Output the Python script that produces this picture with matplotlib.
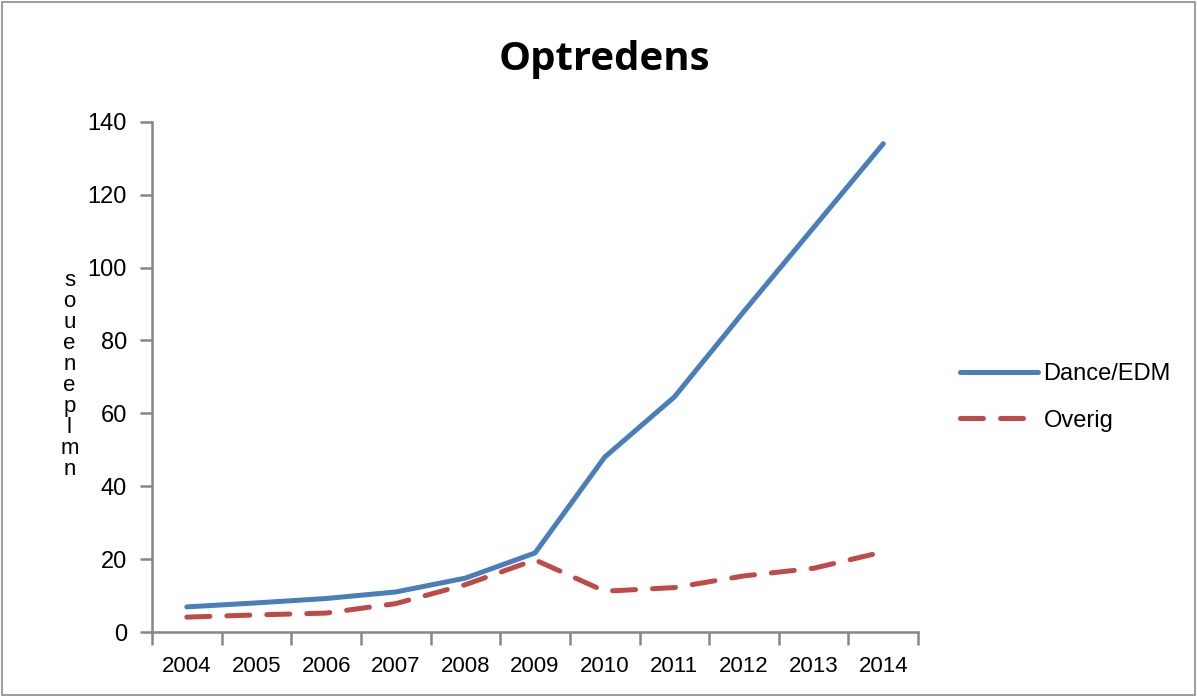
import matplotlib
matplotlib.use("Agg")
import matplotlib.pyplot as plt
from matplotlib.patches import Rectangle

years = ["2004", "2005", "2006", "2007", "2008", "2009", "2010", "2011", "2012", "2013", "2014"]
dance = [6.9, 8.0, 9.2, 11.0, 14.8, 21.7, 48.0, 64.5, 88.0, 111.0, 134.0]
overig = [4.1, 4.7, 5.2, 7.8, 13.0, 19.8, 11.2, 12.2, 15.4, 17.5, 22.0]
yticks = [0, 20, 40, 60, 80, 100, 120, 140]

plt.rcParams['font.family'] = ['Liberation Sans', 'DejaVu Sans']

fig = plt.figure(figsize=(11.97, 6.97), dpi=100)
fig.patches.append(Rectangle((0.002, 0.003), 0.996, 0.994, transform=fig.transFigure,
                             fill=False, edgecolor='#8c8c8c', linewidth=1.2))
ax = fig.add_axes([0.127, 0.0932, 0.640, 0.732])

x = list(range(len(years)))
ax.plot(x, dance, color='#4A7EBB', linewidth=3.6, solid_capstyle='round', label='Dance/EDM')
ax.plot(x, overig, color='#BE4B48', linewidth=3.6, linestyle=(0, (4.6, 3.4)),
        dash_capstyle='round', label='Overig')

ax.set_xlim(-0.5, len(years) - 0.5)
ax.set_ylim(0, 140)
ax.set_yticks(yticks)
ax.set_yticklabels([str(v) for v in yticks], fontsize=17)
ax.set_xticks([i - 0.5 for i in range(len(years) + 1)])
ax.set_xticklabels([])
ax.set_xticks(x, minor=True)
ax.set_xticklabels(years, minor=True, fontsize=16)
ax.tick_params(axis='x', which='minor', length=0, pad=17)
ax.tick_params(axis='x', which='major', length=9, width=1.8, color='#868686', direction='out')
ax.tick_params(axis='y', length=9, width=1.8, color='#868686', direction='out', pad=9)
for s in ['top', 'right']:
    ax.spines[s].set_visible(False)
for s in ['left', 'bottom']:
    ax.spines[s].set_color('#868686')
    ax.spines[s].set_linewidth(1.8)

fig.text(0.505, 0.915, "Optredens", ha='center', va='center', fontsize=29,
         fontweight='bold', family=['Open Sans', 'DejaVu Sans'])

fig.text(0.058, 0.462, "s\no\nu\ne\nn\ne\np\nl\nm\nn", ha='center', va='center',
         fontsize=16, linespacing=1.0)

leg = fig.legend(loc='center left', bbox_to_anchor=(0.784, 0.43), frameon=False,
                 fontsize=17, handlelength=3.3, labelspacing=1.05, handletextpad=0.25)

fig.savefig("out.png", dpi=100)
